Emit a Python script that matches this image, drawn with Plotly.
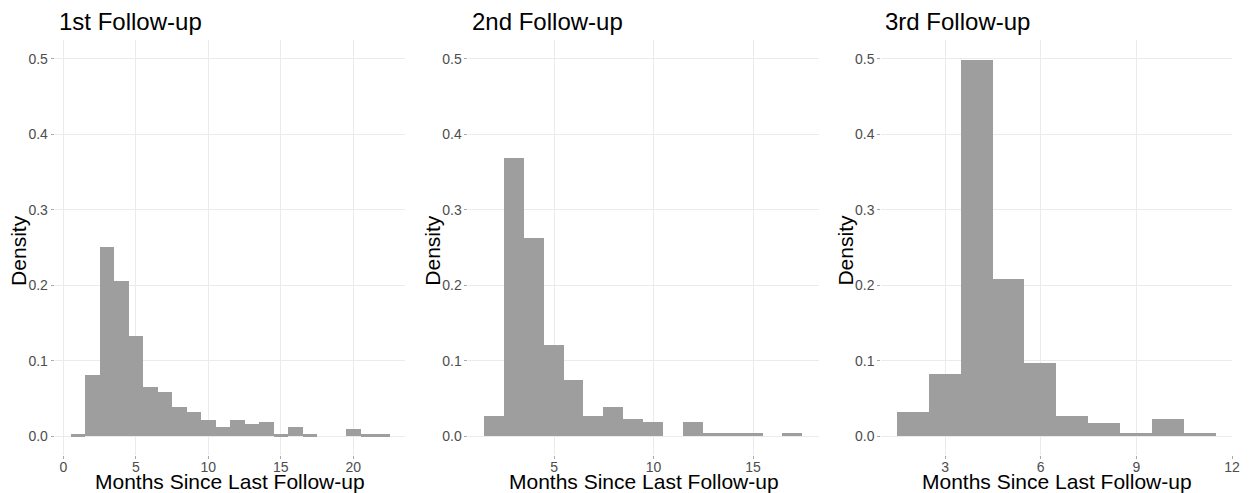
import plotly.graph_objects as go

# Histogram densities (bin width 1 month, bins centred on whole months)
fu1_centers = list(range(1, 23))
fu1_density = [0.0022, 0.081, 0.251, 0.205, 0.133, 0.065, 0.058, 0.039, 0.032, 0.022,
               0.012, 0.022, 0.016, 0.019, 0.0022, 0.012, 0.0022, 0.0, 0.0, 0.0093,
               0.0022, 0.0022]

fu2_centers = list(range(2, 18))
fu2_density = [0.027, 0.368, 0.262, 0.121, 0.074, 0.027, 0.039, 0.023, 0.019, 0.0,
               0.019, 0.0038, 0.0038, 0.0038, 0.0, 0.0038]

fu3_centers = list(range(2, 12))
fu3_density = [0.032, 0.083, 0.499, 0.208, 0.097, 0.027, 0.018, 0.004, 0.023, 0.004]

panel_titles = ["1st Follow-up", "2nd Follow-up", "3rd Follow-up"]
x_title = "Months Since Last Follow-up"
y_title = "Density"

x_ticks = [[0, 5, 10, 15, 20], [5, 10, 15], [3, 6, 9, 12]]
y_ticks = [0.0, 0.1, 0.2, 0.3, 0.4, 0.5]

panels = [(fu1_centers, fu1_density), (fu2_centers, fu2_density), (fu3_centers, fu3_density)]

W, H = 1250, 493
# plot-area pixel boxes (left, right) for each panel; shared top/bottom
px_boxes = [(55, 408), (471.5, 824), (887, 1240)]
top_px, bot_px = 40, 455
y_dom = [(H - bot_px) / H, (H - top_px) / H]

FONT = "Liberation Sans, Arial, sans-serif"
BAR = "#9e9e9e"
GRID = "#ebebeb"
TICK_TXT = "#4d4d4d"

fig = go.Figure()
annotations = []

for i, ((cx, dens), (l, r)) in enumerate(zip(panels, px_boxes)):
    n = "" if i == 0 else str(i + 1)
    fig.add_trace(go.Bar(
        x=cx, y=dens, width=1.0,
        marker=dict(color=BAR, line=dict(width=0)),
        xaxis="x" + n, yaxis="y" + n, showlegend=False,
        hovertemplate="%{x}: %{y:.3f}<extra></extra>",
    ))
    lo = cx[0] - 0.5
    hi = cx[-1] + 0.5
    pad = 0.05 * (hi - lo)
    axis_common = dict(
        showgrid=True, gridcolor=GRID, gridwidth=1, zeroline=False,
        showline=False, ticks="outside", ticklen=3, tickcolor="#aaaaaa",
        tickfont=dict(family=FONT, size=14, color=TICK_TXT),
    )
    fig.update_layout(**{
        "xaxis" + n: dict(
            domain=[l / W, r / W], range=[lo - pad, hi + pad],
            tickvals=x_ticks[i], anchor="y" + n, ticklabelstandoff=-4,
            **axis_common,
        ),
        "yaxis" + n: dict(
            domain=y_dom, range=[-0.025, 0.525], tickvals=y_ticks,
            tickformat=".1f", anchor="x" + n, **axis_common,
        ),
    })
    annotations.append(dict(
        text=panel_titles[i], xref="paper", yref="paper",
        x=(l + 2) / W, y=(H - 22) / H, xanchor="left", yanchor="middle",
        showarrow=False, font=dict(family=FONT, size=24, color="#000000"),
    ))
    annotations.append(dict(
        text=x_title, xref="paper", yref="paper",
        x=(l + r) / 2 / W, y=(H - 481) / H, xanchor="center", yanchor="middle",
        showarrow=False, font=dict(family=FONT, size=21, color="#000000"),
    ))
    annotations.append(dict(
        text=y_title, xref="paper", yref="paper", textangle=-90,
        x=(l - 37) / W, y=(H - 250) / H, xanchor="center", yanchor="middle",
        showarrow=False, font=dict(family=FONT, size=21, color="#000000"),
    ))

fig.update_layout(
    width=W, height=H,
    margin=dict(l=0, r=0, t=0, b=0),
    paper_bgcolor="white", plot_bgcolor="white",
    bargap=0, annotations=annotations,
    font=dict(family=FONT),
)

fig.write_html("out.html")
